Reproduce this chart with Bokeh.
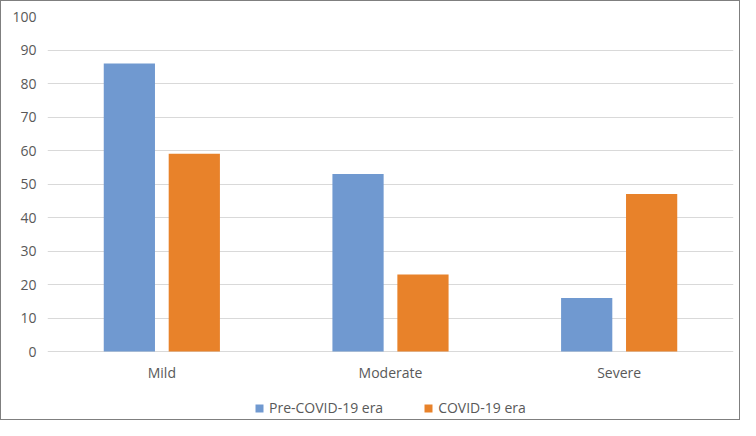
from bokeh.plotting import figure
from bokeh.models import ColumnDataSource, Legend, LegendItem, FixedTicker, FactorRange, Range1d
from bokeh.transform import dodge
from bokeh.core.properties import value
from bokeh.embed import file_html
from bokeh.resources import INLINE

categories = ["Mild", "Moderate", "Severe"]
pre_covid = [86, 53, 16]
covid = [59, 23, 47]
series_names = ["Pre-COVID-19 era", "COVID-19 era"]
y_ticks = [0, 10, 20, 30, 40, 50, 60, 70, 80, 90, 100]

src = ColumnDataSource(dict(cat=categories, pre=pre_covid, cov=covid))

p = figure(width=740, height=420, x_range=FactorRange(factors=categories, range_padding=0),
           y_range=Range1d(-20, 100), output_backend="svg", toolbar_location=None,
           min_border_left=46, min_border_right=8, min_border_top=15, min_border_bottom=3)
p.outline_line_color = None
p.styles = {"border": "1px solid #7f7f7f"}

font = "Open Sans"
r1 = p.vbar(x=dodge("cat", -0.142, range=p.x_range), top="pre", width=0.224, source=src,
            color="#7099d0", line_color=None)
r2 = p.vbar(x=dodge("cat", 0.142, range=p.x_range), top="cov", width=0.224, source=src,
            color="#e8822a", line_color=None)

# category labels drawn below the zero line
p.text(x="cat", y=-6.3, text="cat", source=src, text_align="center", text_baseline="middle",
       text_font=value(font), text_font_size="14px", text_color="#595959")

p.xaxis.visible = False
p.yaxis.ticker = FixedTicker(ticks=y_ticks)
ax = p.yaxis[0]
ax.axis_line_color = None
ax.major_tick_line_color = None
ax.minor_tick_line_color = None
ax.major_label_text_font = font
ax.major_label_text_font_size = "14px"
ax.major_label_text_color = "#595959"
ax.major_label_standoff = 5
p.xgrid.grid_line_color = None
p.ygrid.grid_line_color = "#d9d9d9"
p.ygrid.grid_line_width = 1
p.ygrid.ticker = FixedTicker(ticks=y_ticks)

legend = Legend(items=[LegendItem(label=series_names[0], renderers=[r1]),
                       LegendItem(label=series_names[1], renderers=[r2])],
                orientation="horizontal", location=(207, 1),
                label_text_font=font, label_text_font_size="14px", label_text_color="#595959",
                glyph_width=10, glyph_height=10, spacing=40, border_line_color=None,
                background_fill_alpha=0, padding=4, label_standoff=5, margin=0)
p.add_layout(legend, "center")

open("out.html", "w").write(file_html(p, INLINE))
